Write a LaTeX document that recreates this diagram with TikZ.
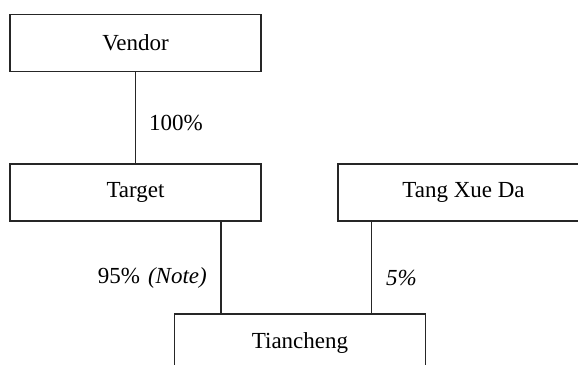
\documentclass[tikz,border=0pt]{standalone}
\usepackage{fontspec}
\setmainfont{Liberation Serif}
\begin{document}
\begin{tikzpicture}[x=1pt,y=-1pt,
  entity/.style={draw=black!85, line width=1.3pt, minimum width=251pt, minimum height=57pt, inner sep=0pt, font=\fontsize{23}{27}\selectfont},
  conn/.style={draw=black!85, line width=1.3pt},
  pct/.style={inner sep=0pt, font=\fontsize{23}{27}\selectfont}]
\clip (0,0) rectangle (578,364);
\useasboundingbox (0,0) rectangle (578,364);
\node[entity] (vendor) at (135.5,43) {Vendor};
\node[entity] (target) at (135.5,192.5) {Target};
\node[entity] (tang) at (463.5,192.5) {Tang Xue Da};
\node[entity] (tian) at (300,342.5) {Tiancheng};
\draw[conn] (vendor.south) -- (target.north);
\draw[conn] ([xshift=85.5pt]target.south) -- ([xshift=-79pt]tian.north);
\draw[conn] ([xshift=-92pt]tang.south) -- ([xshift=71.5pt]tian.north);
\node[pct, anchor=west] (l1) at (149,123) {100\%};
\node[pct, anchor=east] (l2) at (207,278) {95\%\hspace{0.35em}\textit{(Note)}};
\node[pct, anchor=west] (l3) at (386,278) {\textit{5\%}};
\end{tikzpicture}
\end{document}
